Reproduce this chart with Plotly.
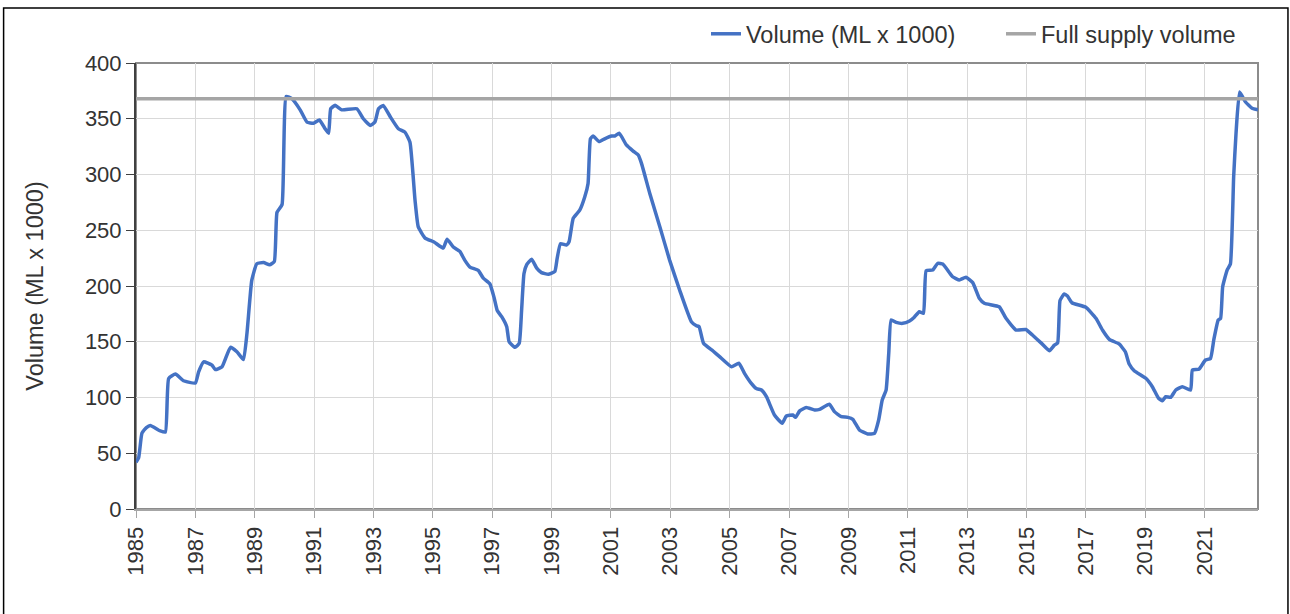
import plotly.graph_objects as go

# Decimal years and storage volume (ML x 1000)
years = [1985.00, 1985.09, 1985.2, 1985.35, 1985.48, 1985.82, 1985.99, 1986.1, 1986.33, 1986.6,
         1987.0, 1987.11, 1987.28, 1987.56, 1987.67, 1987.9, 1988.18, 1988.4, 1988.62, 1988.74,
         1988.9, 1989.07, 1989.3, 1989.5, 1989.66, 1989.75, 1989.92, 1990.06, 1990.25, 1990.53,
         1990.76, 1990.98, 1991.18, 1991.37, 1991.49, 1991.56, 1991.71, 1991.93, 1992.44, 1992.66,
         1992.89, 1993.05, 1993.17, 1993.33, 1993.56, 1993.84, 1994.06, 1994.23, 1994.4, 1994.51,
         1994.74, 1995.04, 1995.35, 1995.48, 1995.69, 1995.91, 1996.08, 1996.25, 1996.53, 1996.7,
         1996.92, 1997.06, 1997.17, 1997.32, 1997.49, 1997.57, 1997.77, 1997.91, 1997.99, 1998.07,
         1998.16, 1998.33, 1998.5, 1998.66, 1998.89, 1999.11, 1999.19, 1999.3, 1999.5, 1999.59,
         1999.73, 1999.95, 2000.12, 2000.23, 2000.31, 2000.4, 2000.6, 2000.79, 2001.02, 2001.13,
         2001.28, 2001.52, 2001.75, 2001.92, 2002.03, 2002.31, 2002.65, 2002.98, 2003.32, 2003.71,
         2003.88, 2003.97, 2004.12, 2004.44, 2004.66, 2005.06, 2005.31, 2005.5, 2005.73, 2005.9,
         2006.07, 2006.24, 2006.51, 2006.77, 2006.91, 2007.13, 2007.22, 2007.36, 2007.58, 2007.86,
         2008.03, 2008.36, 2008.53, 2008.76, 2008.98, 2009.15, 2009.37, 2009.65, 2009.88, 2010.02,
         2010.14, 2010.27, 2010.36, 2010.44, 2010.61, 2010.83, 2011.06, 2011.22, 2011.39, 2011.53,
         2011.62, 2011.84, 2012.01, 2012.18, 2012.38, 2012.51, 2012.74, 2012.96, 2013.19, 2013.41,
         2013.58, 2014.08, 2014.31, 2014.65, 2014.98, 2015.2, 2015.49, 2015.77, 2015.94, 2016.05,
         2016.13, 2016.27, 2016.38, 2016.53, 2017.0, 2017.34, 2017.56, 2017.79, 2018.12, 2018.33,
         2018.46, 2018.63, 2019.02, 2019.24, 2019.45, 2019.58, 2019.69, 2019.86, 2020.03, 2020.25,
         2020.53, 2020.59, 2020.81, 2021.03, 2021.2, 2021.31, 2021.46, 2021.54, 2021.61, 2021.76,
         2021.87, 2021.98, 2022.06, 2022.18, 2022.38, 2022.6, 2022.8]
volume = [42, 46, 68, 73, 75, 70, 69, 117, 121, 115,
          113, 123, 132, 129, 125, 127.6, 145, 141, 134, 158,
          205, 220, 221, 219, 222, 266, 273, 370, 368, 358,
          347, 346, 349, 341, 337, 359, 362, 358, 359, 350,
          344, 347, 359, 362, 352, 341, 338, 329, 277, 253,
          243, 239.5, 234, 242, 235, 231, 223, 217, 214, 207,
          202, 190, 178, 172.5, 163.5, 150, 145, 148.6, 178, 211,
          219, 224, 216, 212, 210.5, 213, 225, 238, 236.7, 239.7,
          260.7, 268, 280, 292, 332, 334.5, 329.5, 332, 334.5, 334.5,
          337, 326.5, 321, 317.5, 310, 283, 253, 223, 196, 168,
          164.4, 163.5, 148.6, 141.7, 136.6, 127.6, 130.7, 121.7, 112.7, 108,
          106.7, 100.7, 84.3, 76.9, 83.4, 84.3, 82.2, 88, 91, 88.8,
          89.4, 94, 87.3, 82.8, 82.2, 80.4, 70.9, 67.3, 67.9, 79.8,
          97.8, 106.7, 139.6, 169.5, 167.4, 166.5, 168.6, 172, 177, 175.5,
          213.7, 214.3, 220.4, 219.7, 212.8, 208.3, 205.4, 207.8, 203, 189,
          184.5, 181.4, 171, 160.5, 161, 156, 149, 142, 147, 149,
          187, 192.8, 191, 185, 180.9, 171, 160.5, 152.2, 148, 141,
          130, 124, 117.2, 109.7, 99.3, 97.1, 100.7, 100.2, 106.7, 109.7,
          106.7, 124.7, 125.3, 133.6, 135, 151.6, 169.5, 171, 199.4, 214.3,
          219.7, 298, 337, 374, 365, 359.4, 358]

full_supply = 368
tick_years = list(range(1985, 2022, 2))
y_ticks = list(range(0, 401, 50))

FONT = "Liberation Sans"
TXT = "#333333"

fig = go.Figure()
fig.add_trace(go.Scatter(x=years, y=volume, mode="lines", name="Volume (ML x 1000)",
                         line=dict(color="#4472C4", width=3.5, shape="spline", smoothing=0.4)))
fig.add_trace(go.Scatter(x=[years[0], years[-1]], y=[full_supply, full_supply], mode="lines",
                         name="Full supply volume", line=dict(color="#A5A5A5", width=3.5)))

fig.update_layout(
    width=1290, height=614,
    margin=dict(l=136, r=32, t=63, b=105, autoexpand=False),
    paper_bgcolor="white", plot_bgcolor="white",
    font=dict(family=FONT, size=22, color=TXT),
    showlegend=True,
    legend=dict(orientation="h", x=0.508, xanchor="left", y=1.065, yanchor="middle",
                font=dict(size=23.5, color=TXT), bgcolor="rgba(0,0,0,0)",
                entrywidth=250, tracegroupgap=0),
    xaxis=dict(range=[1985, years[-1]], tickmode="array", tickvals=tick_years,
               ticktext=[str(t) for t in tick_years], tickangle=-90, automargin=False,
               showgrid=True, gridcolor="#D9D9D9", gridwidth=1,
               ticks="outside", ticklen=7, tickcolor="#A6A6A6",
               showline=True, linecolor="#A6A6A6", linewidth=2,
               zeroline=False, tickfont=dict(size=22, color=TXT)),
    yaxis=dict(range=[0, 400], tickmode="array", tickvals=y_ticks, automargin=False,
               showgrid=True, gridcolor="#D9D9D9", gridwidth=1,
               ticks="outside", ticklen=8, tickcolor="#404040",
               showline=True, linecolor="#404040", linewidth=2,
               zeroline=False, tickfont=dict(size=22, color=TXT),
               title=dict(text="Volume (ML x 1000)", font=dict(size=23.5, color=TXT), standoff=35)),
    shapes=[
        dict(type="rect", xref="paper", yref="paper", x0=0, x1=1, y0=0, y1=1,
             line=dict(color="#8C8C8C", width=2), layer="below"),
        dict(type="rect", xref="paper", yref="paper", x0=-0.118, x1=1.0267, y0=-0.245, y1=1.1233,
             line=dict(color="#000000", width=1.5), layer="below"),
    ],
)

fig.write_html("out.html", config={"displayModeBar": False},
               post_script="document.body.style.margin='0px';")
